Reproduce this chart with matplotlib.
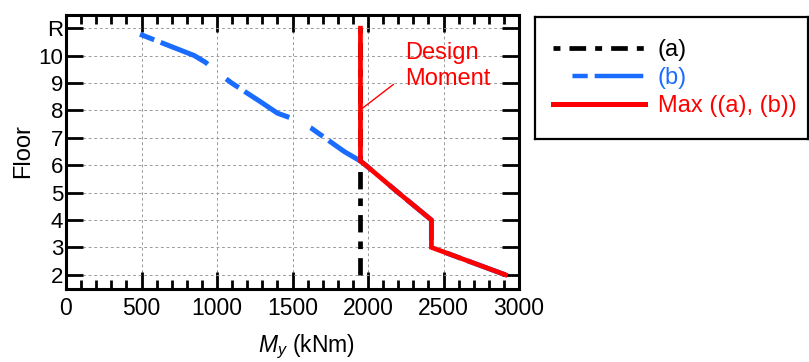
import numpy as np
import matplotlib
matplotlib.use("Agg")
import matplotlib.pyplot as plt
from matplotlib.lines import Line2D
from matplotlib.ticker import MultipleLocator, NullLocator

plt.rcParams['font.family'] = ['Liberation Sans', 'DejaVu Sans']
plt.rcParams['mathtext.fontset'] = 'custom'
plt.rcParams['mathtext.rm'] = 'Liberation Sans'
plt.rcParams['mathtext.it'] = 'Liberation Sans:italic'
plt.rcParams['lines.scale_dashes'] = False

# (a): constant moment over the height
floors_a = [2, 11]
moment_a = 1950

# (b): demand curve, read from the top of the building downwards
floors_b = [10.78, 10.4, 10.0, 9.75, 9.4, 9.0, 8.3, 7.9, 7.7, 7.36, 7.0, 6.5, 6.15, 6.0, 5.0, 4.0, 3.0, 2.0]
moment_b = [490, 665, 850, 925, 1000, 1097, 1292, 1400, 1500, 1622, 1714, 1842, 1950, 1985, 2200, 2420, 2420, 2910]

floor_top = 11
floor_ticks = [2, 3, 4, 5, 6, 7, 8, 9, 10, 11]
floor_labels = ['2', '3', '4', '5', '6', '7', '8', '9', '10', 'R']

blue = '#1a6cff'
red = '#ff0000'

# Max((a), (b)) along the floors of (b), plus the roof
floors_max = [floor_top] + floors_b
moment_max = [moment_a] + list(np.maximum(moment_b, moment_a))

fig = plt.figure(figsize=(8.09, 3.62), dpi=100)
ax = fig.add_axes([66 / 809, 1 - 288.5 / 362, 453 / 809, 274 / 362])

dash_a = (0, (12.5, 6.5, 5.5, 6.5))
dash_b = (0, (11, 5, 37.5, 17))

ax.plot([moment_a] * len(floors_a), floors_a, color='black', lw=3.4, linestyle=dash_a, zorder=3)
ax.plot(moment_b, floors_b, color=blue, lw=3.6, linestyle=dash_b, zorder=4)
ax.plot(moment_max, floors_max, color=red, lw=3.4, zorder=5, solid_joinstyle='miter')

ax.annotate('Design\nMoment', xy=(1954, 8.04), xytext=(2245, 9.62), color=red,
            fontsize=17, ha='left', va='center', linespacing=1.2,
            arrowprops=dict(arrowstyle='-', color=red, lw=1.0, shrinkA=8, shrinkB=0,
                            relpos=(0, 0.3)))

ax.set_xlim(0, 3000)
ax.set_ylim(1.5, 11.5)
ax.set_xticks(range(0, 3001, 500))
ax.xaxis.set_minor_locator(MultipleLocator(100))
ax.yaxis.set_minor_locator(NullLocator())
ax.set_yticks(floor_ticks)
ax.set_yticklabels(floor_labels)

ax.tick_params(which='major', direction='in', length=12, width=2, top=True, right=True)
ax.tick_params(axis='x', which='major', pad=6, labelsize=16.5)
ax.tick_params(axis='y', which='major', pad=2, labelsize=16)
ax.tick_params(which='minor', direction='in', length=6.5, width=2, top=True)
for s in ax.spines.values():
    s.set_linewidth(2.2)

ax.grid(True, which='major', color='#999999', linestyle=(0, (2, 2)), linewidth=0.7, zorder=0)

ax.set_xlabel(r'$M_y$ (kNm)', fontsize=16.5)
ax.xaxis.set_label_coords(0.53, -0.16)
ax.set_ylabel('Floor', fontsize=17)
ax.yaxis.set_label_coords(-0.07, 0.5)

# legend box
lax = fig.add_axes([535 / 809, 1 - 139 / 362, 273 / 809, 122 / 362])
lax.set_xticks([])
lax.set_yticks([])
for s in lax.spines.values():
    s.set_linewidth(1.6)
handles = [
    Line2D([], [], color='black', lw=3.4, linestyle=(18.5, (12, 6.5, 5, 6.5))),
    Line2D([], [], color=blue, lw=3.2, linestyle=(51, (11, 5, 35, 14))),
    Line2D([], [], color=red, lw=3.6),
]
labels = ['(a)', '(b)', 'Max ((a), (b))']
lax.legend(handles, labels, loc='center left', bbox_to_anchor=(0.065, 0.5),
           frameon=False, fontsize=17, handlelength=3.9, handletextpad=0.55,
           labelspacing=0.25, borderpad=0, borderaxespad=0,
           labelcolor=['black', blue, red])

fig.savefig('out.png', dpi=100)
